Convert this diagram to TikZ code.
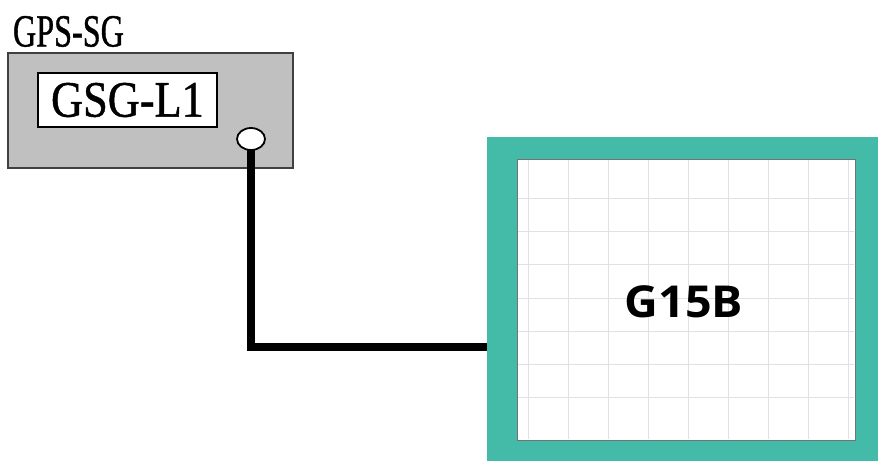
\documentclass[tikz,border=0pt]{standalone}
\usepackage{fontspec}
\setmainfont{Liberation Serif}
\newfontfamily\tagfont[FakeBold=1]{Liberation Serif}
\newfontfamily\panelfont{Open Sans}
\usetikzlibrary{shapes.geometric,positioning}

\definecolor{tealframe}{RGB}{68,187,169}
\definecolor{panelgray}{RGB}{192,192,192}
\definecolor{gridgray}{RGB}{224,224,230}

\begin{document}
\begin{tikzpicture}[x=1pt,y=-1pt]
\tikzstyle{every node}+=[inner sep=0pt,outer sep=0pt]
\useasboundingbox (0,0) rectangle (878,461);
% signal generator
\node [draw=black!75,line width=1.8pt,fill=panelgray,minimum width=285pt,minimum height=115pt] (sg) at (150.5,110.5) {};
\node [anchor=base west] (sglabel) at (13,46.5) {\scalebox{0.7}[1]{\tagfont\fontsize{46}{46}\selectfont GPS-SG}};
\node [draw=black,line width=1.5pt,fill=white,minimum width=179pt,minimum height=54pt] (display) at (127.5,100) {\scalebox{0.87}[1]{\tagfont\fontsize{51}{51}\selectfont GSG-L1}};
\node [ellipse,draw=black,line width=1.8pt,fill=white,minimum width=28pt,minimum height=22pt] (port) at (251,139) {};
% receiver
\node [fill=tealframe,minimum width=391pt,minimum height=324pt] (rx) at (682.5,299) {};
\node [draw=black!55,line width=0.8pt,fill=white,minimum width=338pt,minimum height=281pt] (panel) at (686,299.5) {};
\foreach \x in {528,568,...,848}
  \draw [gridgray,line width=0.8pt] (\x,160) -- (\x,439);
\foreach \y in {198,231.3,...,400}
  \draw [gridgray,line width=0.8pt] (518,\y) -- (854,\y);
\node [font=\panelfont\bfseries\fontsize{44}{44}\selectfont] (rxname) at (684,302) {\scalebox{1.06}[1]{G15B}};
% cable
\coordinate (bend) at (251,347);
\draw [line width=8pt,line join=miter] (port.south) -- (bend) -- (bend -| rx.west);
\end{tikzpicture}
\end{document}
